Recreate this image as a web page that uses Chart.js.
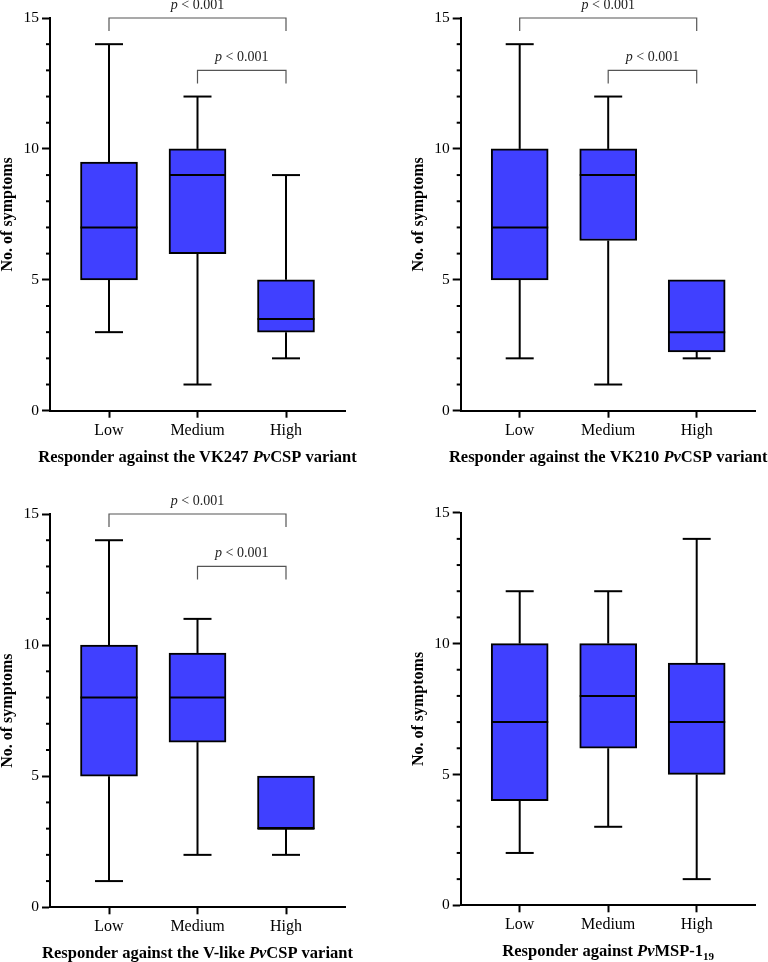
<!DOCTYPE html>
<html>
<head>
<meta charset="utf-8">
<script src="https://cdn.jsdelivr.net/npm/chart.js@4.4.1/dist/chart.umd.min.js"></script>
<style>
  body { margin: 0; background: #fff; }
  #wrap { position: relative; width: 768px; height: 962px; }
  canvas { position: absolute; }
</style>
</head>
<body>
<div id="wrap">
  <canvas id="vk247" width="384" height="480" style="left:0;top:0"></canvas>
  <canvas id="vk210" width="384" height="480" style="left:384px;top:0"></canvas>
  <canvas id="vlike" width="384" height="482" style="left:0;top:480px"></canvas>
  <canvas id="msp" width="384" height="482" style="left:384px;top:480px"></canvas>
</div>
<script>
const groups = ['Low', 'Medium', 'High']
const yLabels = [0, 5, 10, 15]
const pLabel = 'p < 0.001'

// VK247 PvCSP
const vk247Min = [3, 1, 2]
const vk247Q1 = [5, 6, 3]
const vk247Median = [7, 9, 3.5]
const vk247Q3 = [9.5, 10, 5]
const vk247Max = [14, 12, 9]

// VK210 PvCSP
const vk210Min = [2, 1, 2]
const vk210Q1 = [5, 6.5, 2.25]
const vk210Median = [7, 9, 3]
const vk210Q3 = [10, 10, 5]
const vk210Max = [14, 12, 5]

// V-like PvCSP
const vlikeMin = [1, 2, 2]
const vlikeQ1 = [5, 6.3, 3]
const vlikeMedian = [8, 8, 3]
const vlikeQ3 = [10, 9.7, 5]
const vlikeMax = [14, 11, 5]

// PvMSP-1 19
const mspMin = [2, 3, 1]
const mspQ1 = [4, 6, 5]
const mspMedian = [7, 8, 7]
const mspQ3 = [10, 10, 9.25]
const mspMax = [12, 12, 14]

// significance brackets: [from group, to group, height]
const brackets = [[0, 2, 15], [1, 2, 13]]

const serif = "'Liberation Serif', 'Times New Roman', serif"
const boxFill = '#4040ff'

function line(ctx, x1, y1, x2, y2) {
  ctx.beginPath()
  ctx.moveTo(x1, y1)
  ctx.lineTo(x2, y2)
  ctx.stroke()
}

function drawParts(ctx, parts, cx, baseY) {
  let total = 0
  parts.forEach(p => { ctx.font = p.font; p.w = ctx.measureText(p.t).width; total += p.w })
  let xx = cx - total / 2
  ctx.textAlign = 'left'
  ctx.textBaseline = 'alphabetic'
  parts.forEach(p => { ctx.font = p.font; ctx.fillText(p.t, xx, baseY + (p.dy || 0)); xx += p.w })
}

function boxBits(st, titleParts, pairs) {
  return {
    id: 'boxBits',
    afterDatasetsDraw(chart) {
      const {ctx, scales: {x, y}} = chart
      ctx.save()
      ctx.strokeStyle = '#000'
      ctx.lineWidth = 2
      groups.forEach((g, i) => {
        const cx = x.getPixelForValue(i)
        const box = 28.5, cap = 14
        const yMed = y.getPixelForValue(st.median[i])
        line(ctx, cx - box, yMed, cx + box, yMed)
        if (st.max[i] > st.q3[i]) {
          const yMax = y.getPixelForValue(st.max[i])
          line(ctx, cx, y.getPixelForValue(st.q3[i]), cx, yMax)
          line(ctx, cx - cap, yMax, cx + cap, yMax)
        }
        if (st.min[i] < st.q1[i]) {
          const yMin = y.getPixelForValue(st.min[i])
          line(ctx, cx, y.getPixelForValue(st.q1[i]), cx, yMin)
          line(ctx, cx - cap, yMin, cx + cap, yMin)
        }
      })
      ctx.restore()
    },
    afterDraw(chart) {
      const {ctx, chartArea, scales: {x, y}} = chart
      ctx.save()
      // minor y ticks
      ctx.strokeStyle = '#000'
      ctx.lineWidth = 2
      y.ticks.forEach(t => {
        if (!yLabels.includes(t.value)) {
          const py = y.getPixelForValue(t.value)
          line(ctx, chartArea.left - 4, py, chartArea.left, py)
        }
      })
      // significance brackets
      pairs.forEach(([a, b, h]) => {
        const x1 = x.getPixelForValue(a), x2 = x.getPixelForValue(b)
        const top = y.getPixelForValue(h), leg = y.getPixelForValue(h - 0.5)
        ctx.strokeStyle = '#555'
        ctx.lineWidth = 1.2
        ctx.beginPath()
        ctx.moveTo(x1, leg)
        ctx.lineTo(x1, top)
        ctx.lineTo(x2, top)
        ctx.lineTo(x2, leg)
        ctx.stroke()
        ctx.fillStyle = '#222'
        drawParts(ctx, [
          {t: pLabel.slice(0, 1), font: `italic 14px ${serif}`},
          {t: pLabel.slice(1), font: `14px ${serif}`}
        ], (x1 + x2) / 2, top - 9)
      })
      // x axis title
      ctx.fillStyle = '#000'
      drawParts(ctx, titleParts, (chartArea.left + chartArea.right) / 2, chartArea.bottom + 51)
      ctx.restore()
    }
  }
}

function makeChart(id, st, pad, titleParts, pairs) {
  return new Chart(document.getElementById(id), {
    type: 'bar',
    data: {
      datasets: [{
        data: groups.map((g, i) => ({x: i, y: [st.q1[i], st.q3[i]]})),
        backgroundColor: boxFill,
        borderColor: '#000',
        borderWidth: 2,
        borderSkipped: false,
        barThickness: 57
      }]
    },
    options: {
      responsive: false,
      animation: false,
      layout: {padding: pad},
      plugins: {legend: {display: false}, tooltip: {enabled: false}},
      scales: {
        x: {
          type: 'linear',
          min: -2 / 3,
          max: 8 / 3,
          offset: false,
          afterBuildTicks: s => { s.ticks = groups.map((g, i) => ({value: i})) },
          afterFit: s => { s.height = 40 },
          grid: {drawOnChartArea: false, offset: false, tickLength: 7, tickWidth: 2, tickColor: '#000'},
          border: {color: '#000', width: 2},
          ticks: {
            autoSkip: false,
            maxRotation: 0,
            callback: v => groups[Math.round(v)],
            font: {family: serif, size: 16},
            color: '#000',
            padding: 3
          }
        },
        y: {
          min: 0,
          max: 15,
          afterFit: s => { s.width = 50 },
          grid: {
            drawOnChartArea: false,
            tickLength: 8,
            tickWidth: 2,
            tickColor: c => yLabels.includes(c.tick.value) ? '#000' : 'rgba(0,0,0,0)'
          },
          border: {color: '#000', width: 2},
          ticks: {
            stepSize: 1,
            autoSkip: false,
            callback: v => yLabels.includes(v) ? v : '',
            font: {family: serif, size: 15.5},
            color: '#000',
            padding: 3
          },
          title: {
            display: true,
            text: 'No. of symptoms',
            font: {family: serif, size: 16, weight: 'bold', lineHeight: 1},
            color: '#000',
            padding: 0
          }
        }
      }
    },
    plugins: [boxBits(st, titleParts, pairs)]
  })
}

const bold = `bold 16.5px ${serif}`
const boldIt = `italic bold 16.5px ${serif}`

makeChart('vk247',
  {min: vk247Min, q1: vk247Q1, median: vk247Median, q3: vk247Q3, max: vk247Max},
  {left: 0, right: 39, top: 18, bottom: 29.3},
  [{t: 'Responder against the VK247 ', font: bold}, {t: 'Pv', font: boldIt}, {t: 'CSP variant', font: bold}],
  brackets)

makeChart('vk210',
  {min: vk210Min, q1: vk210Q1, median: vk210Median, q3: vk210Q3, max: vk210Max},
  {left: 26.7, right: 12.3, top: 18, bottom: 29.3},
  [{t: 'Responder against the VK210 ', font: bold}, {t: 'Pv', font: boldIt}, {t: 'CSP variant', font: bold}],
  brackets)

makeChart('vlike',
  {min: vlikeMin, q1: vlikeQ1, median: vlikeMedian, q3: vlikeQ3, max: vlikeMax},
  {left: 0, right: 39, top: 34, bottom: 14.7},
  [{t: 'Responder against the V-like ', font: bold}, {t: 'Pv', font: boldIt}, {t: 'CSP variant', font: bold}],
  brackets)

makeChart('msp',
  {min: mspMin, q1: mspQ1, median: mspMedian, q3: mspQ3, max: mspMax},
  {left: 26.7, right: 12.3, top: 32.7, bottom: 16.7},
  [{t: 'Responder against ', font: bold}, {t: 'Pv', font: boldIt}, {t: 'MSP-1', font: bold}, {t: '19', font: `bold 11px ${serif}`, dy: 4}],
  [])
</script>
</body>
</html>
